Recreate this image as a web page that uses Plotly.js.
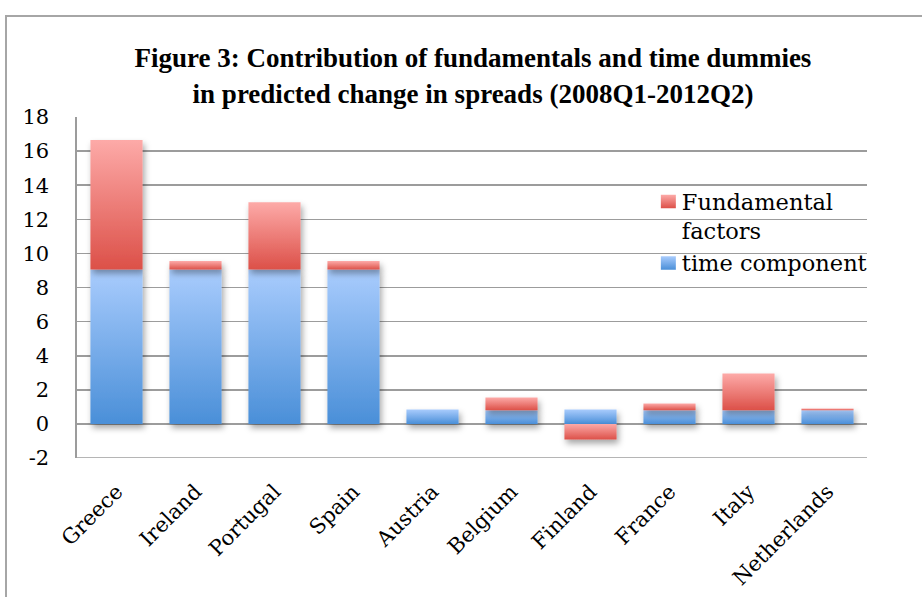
<!DOCTYPE html>
<html>
<head>
<meta charset="utf-8">
<script src="https://cdn.plot.ly/plotly-3.0.1.min.js"></script>
<style>
html,body{margin:0;padding:0;background:#fff;}
#chart{position:absolute;left:0;top:0;width:922px;height:597px;}
#frame{position:absolute;left:5px;top:15px;width:925px;height:600px;border-left:2px solid #a6a6a6;border-top:2px solid #a6a6a6;pointer-events:none;}
</style>
</head>
<body>
<div id="chart"></div>
<div id="frame"></div>
<script>
const categories = ['Greece','Ireland','Portugal','Spain','Austria','Belgium','Finland','France','Italy','Netherlands'];
const timeComponent = [9.05, 9.05, 9.05, 9.05, 0.85, 0.8, 0.85, 0.8, 0.8, 0.8];
const fundamentalFactors = [7.6, 0.5, 3.95, 0.5, 0, 0.75, -0.92, 0.4, 2.15, 0.1];
const yTicks = [-2, 0, 2, 4, 6, 8, 10, 12, 14, 16, 18];

const serif = 'DejaVu Serif, Liberation Serif, serif';

const traces = [
  {type:'bar', name:'time component', x:categories, y:timeComponent,
   marker:{color:'#7aaeea', line:{width:0}}, hoverinfo:'x+y'},
  {type:'bar', name:'Fundamental<br>factors', x:categories, y:fundamentalFactors,
   marker:{color:'#ec7f7a', line:{width:0}}, hoverinfo:'x+y'}
];

const layout = {
  width:922, height:597,
  margin:{l:77, r:55, t:117, b:139},
  paper_bgcolor:'#fff', plot_bgcolor:'#fff',
  barmode:'relative', bargap:0.34,
  showlegend:true,
  title:{text:'<b>Figure 3: Contribution of fundamentals and time dummies<br>in predicted change in spreads (2008Q1-2012Q2)</b>',
    font:{family:'Liberation Serif, serif', size:27, color:'#000'},
    x:0.513, xanchor:'center', y:0.887, yanchor:'middle'},
  xaxis:{type:'category', tickangle:-45, tickfont:{family:serif, size:21, color:'#000'},
    showgrid:false, showline:false, zeroline:false, ticks:'outside', ticklen:12, tickcolor:'rgba(0,0,0,0)'},
  yaxis:{range:[-2,18], tickvals:yTicks, ticktext:yTicks.map(String),
    tickfont:{family:serif, size:21, color:'#000'},
    showgrid:true, gridcolor:'#9c9c9c', gridwidth:1.6,
    zeroline:true, zerolinecolor:'#9c9c9c', zerolinewidth:1.6,
    showline:true, linecolor:'#9c9c9c', linewidth:1.6, mirror:false,
    ticks:'outside', ticklen:22, tickcolor:'rgba(0,0,0,0)'},
  legend:{x:0.715, xanchor:'left', y:0.815, yanchor:'top', bgcolor:'rgba(0,0,0,0)',
    traceorder:'reversed', valign:'top', font:{family:serif, size:22.5, color:'#000'}, tracegroupgap:0,
    itemwidth:30},
  shapes:[
    {type:'line', xref:'paper', yref:'y', x0:0, x1:1, y0:-2, y1:-2, line:{color:'#9c9c9c', width:1.6}}
  ]
};

Plotly.newPlot('chart', traces, layout, {staticPlot:true}).then(function(gd){
  const NS = 'http://www.w3.org/2000/svg';
  const svg = gd.querySelector('svg.main-svg');
  let defs = svg.querySelector('defs');
  if(!defs){ defs = document.createElementNS(NS,'defs'); svg.insertBefore(defs, svg.firstChild); }
  function grad(id, top, bottom){
    const g = document.createElementNS(NS,'linearGradient');
    g.setAttribute('id', id); g.setAttribute('x1','0'); g.setAttribute('y1','0'); g.setAttribute('x2','0'); g.setAttribute('y2','1');
    [[0,top],[1,bottom]].forEach(function(s){
      const st = document.createElementNS(NS,'stop');
      st.setAttribute('offset', s[0]); st.setAttribute('stop-color', s[1]);
      g.appendChild(st);
    });
    defs.appendChild(g);
  }
  grad('gBlue', '#a9ccfd', '#4a8fd8');
  grad('gRed', '#fdaaa8', '#dc5048');
  const f = document.createElementNS(NS,'filter');
  f.setAttribute('id','shadow'); f.setAttribute('x','-20%'); f.setAttribute('y','-20%'); f.setAttribute('width','150%'); f.setAttribute('height','150%');
  const ds = document.createElementNS(NS,'feDropShadow');
  ds.setAttribute('dx','2'); ds.setAttribute('dy','4'); ds.setAttribute('stdDeviation','3'); ds.setAttribute('flood-color','#000'); ds.setAttribute('flood-opacity','0.35');
  f.appendChild(ds); defs.appendChild(f);
  const ids = ['gBlue','gRed'];
  const tr = gd.querySelectorAll('.barlayer .trace');
  tr.forEach(function(t, i){
    t.querySelectorAll('path').forEach(function(p){ p.style.fill = 'url(#' + ids[i] + ')'; });
    t.setAttribute('filter','url(#shadow)');
  });
  const leg = gd.querySelectorAll('.legend .traces');
  leg.forEach(function(t){
    const txt = t.querySelector('.legendtext');
    const isRed = txt && txt.textContent.indexOf('Fundamental') >= 0;
    t.querySelectorAll('.legendpoints path').forEach(function(p){
      p.style.fill = 'url(#' + (isRed ? 'gRed' : 'gBlue') + ')';
      p.setAttribute('d', 'M-1,-6.5h15v13.5h-15Z');
    });
  });
});
</script>
</body>
</html>
